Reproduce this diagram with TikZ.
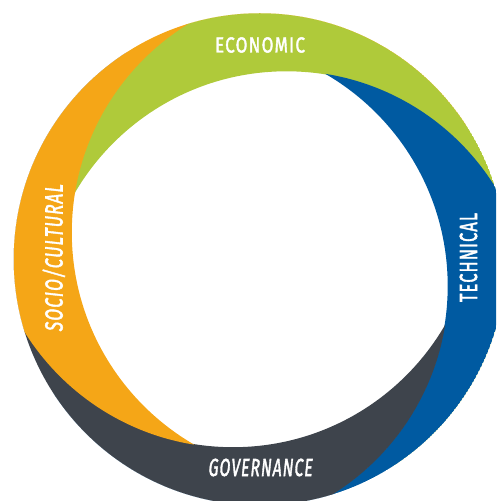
\documentclass[tikz,border=0pt]{standalone}
\usepackage{fontspec}
\newfontfamily\ringfont[FakeBold=2.2,LetterSpace=7]{Fira Sans}
\newfontfamily\ringslantfont[FakeBold=2.2,LetterSpace=7,FakeSlant=0.16]{Fira Sans}
\usepackage{graphicx}

\definecolor{socioorange}{RGB}{245,166,23}
\definecolor{econgreen}{RGB}{175,202,58}
\definecolor{techblue}{RGB}{0,90,161}
\definecolor{govgray}{RGB}{62,68,76}

% word scaled to a given length and cap height
\newcommand\ringword[3]{\resizebox{#1}{#2}{\raisebox{0pt}[\fontcharht\font`E][0pt]{#3}}}

\tikzset{
  ringlabel/.style={text=white, inner sep=0pt, text depth=0pt, font=\ringfont},
  slantlabel/.style={ringlabel, font=\ringslantfont},
}

\begin{document}
\begin{tikzpicture}[x=1pt,y=1pt]
  \useasboundingbox (0,0) rectangle (496,501);
  \clip (0,0) rectangle (496,501);

  % ring centre and the centres of the four inner circles
  \coordinate (ctr) at (259.75,241.75);
  \coordinate (ig) at (286.5,184.7);
  \coordinate (ib) at (202.7,215.0);
  \coordinate (iy) at (233.0,298.8);
  \coordinate (io) at (316.8,268.5);

  \begin{scope}
    \clip (ctr) circle[radius=246pt];
    % economic: inside the orange inner circle, outside its own
    \begin{scope}
      \clip (io) circle[radius=245.5pt];
      \fill[econgreen, even odd rule] (ctr) circle[radius=246pt] (ig) circle[radius=245pt];
    \end{scope}
    % technical
    \begin{scope}
      \clip (ig) circle[radius=245.5pt];
      \fill[techblue, even odd rule] (ctr) circle[radius=246pt] (ib) circle[radius=245pt];
    \end{scope}
    % governance
    \begin{scope}
      \clip (ib) circle[radius=245.5pt];
      \fill[govgray, even odd rule] (ctr) circle[radius=246pt] (iy) circle[radius=245pt];
    \end{scope}
    % socio/cultural
    \begin{scope}
      \clip (iy) circle[radius=245.5pt];
      \fill[socioorange, even odd rule] (ctr) circle[radius=246pt] (io) circle[radius=245pt];
    \end{scope}
  \end{scope}

  \node[ringlabel] (econ) at (260,456) {\ringword{90pt}{15pt}{ECONOMIC}};
  \node[slantlabel] (gov) at (260,33.5) {\ringword{104pt}{17pt}{GOVERNANCE}};
  \node[ringlabel, rotate=90] (tech) at (468.5,243.5) {\ringword{89pt}{17pt}{TECHNICAL}};
  \node[slantlabel, rotate=90] (socio) at (54,242.7) {\ringword{147pt}{17pt}{SOCIO/CULTURAL}};
\end{tikzpicture}
\end{document}
